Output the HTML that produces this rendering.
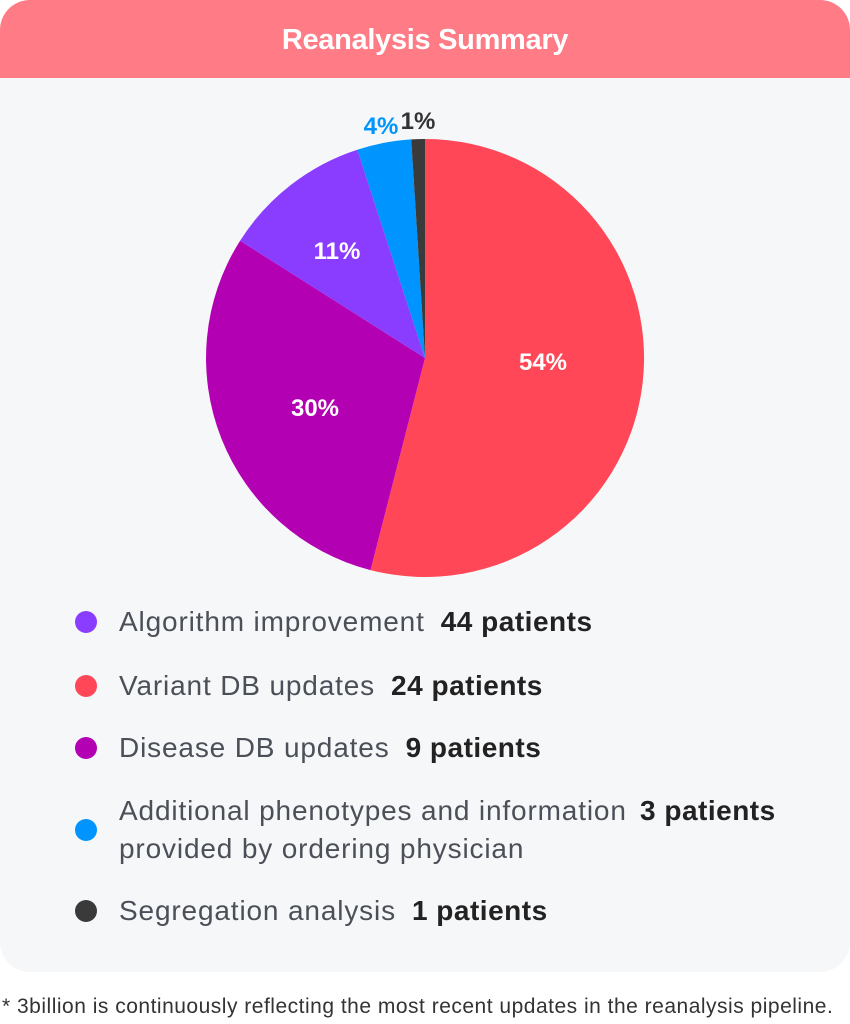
<!DOCTYPE html>
<html><head><meta charset="utf-8"><style>
body{margin:0;width:850px;height:1024px;background:#fff;font-family:"Liberation Sans",sans-serif;position:relative;overflow:hidden}
.card{position:absolute;left:0;top:0;width:850px;height:972px;background:#f6f7f9;border-radius:30px;overflow:hidden}
.hdr{position:absolute;left:0;top:0;width:850px;height:78px;background:#ff7b86;color:#fff;font-weight:bold;font-size:29px;text-align:center;line-height:80px;letter-spacing:-0.3px}
.row{position:absolute;left:119px;font-size:28px;letter-spacing:0.85px;color:#4b4f58;white-space:nowrap;line-height:38px}
.row b{color:#222;margin-left:16px;letter-spacing:0.5px}
.dot{position:absolute;left:75px;width:22px;height:22px;border-radius:50%}
.foot{position:absolute;left:2px;top:995px;font-size:21px;letter-spacing:0.5px;color:#333;white-space:nowrap}
</style></head><body>
<div class="card">
<div class="hdr">Reanalysis Summary</div>
<svg width="850" height="972" style="position:absolute;left:0;top:0">
<path d="M425 358 L425 139 A219 219 0 1 1 370.5 570.1 Z" fill="#ff4757"/>
<path d="M425 358 L370.5 570.1 A219 219 0 0 1 240.1 240.7 Z" fill="#b300b3"/>
<path d="M425 358 L240.1 240.7 A219 219 0 0 1 357.3 149.7 Z" fill="#8a3cff"/>
<path d="M425 358 L357.3 149.7 A219 219 0 0 1 411.2 139.4 Z" fill="#0094ff"/>
<path d="M425 358 L411.2 139.4 A219 219 0 0 1 425 139 Z" fill="#3a3a3a"/>
<g font-family="Liberation Sans,sans-serif" font-weight="bold" font-size="24" text-anchor="middle">
<text x="543" y="370" fill="#fff">54%</text>
<text x="315" y="416" fill="#fff">30%</text>
<text x="337" y="259" fill="#fff">11%</text>
<text x="381" y="134" fill="#0094ff">4%</text>
<text x="418" y="129" fill="#333">1%</text>
</g>
</svg>
<div class="dot" style="top:611px;background:#8a3cff"></div>
<div class="row" style="top:603px">Algorithm improvement<b>44 patients</b></div>
<div class="dot" style="top:675px;background:#ff4757"></div>
<div class="row" style="top:667px">Variant DB updates<b>24 patients</b></div>
<div class="dot" style="top:737px;background:#b300b3"></div>
<div class="row" style="top:729px">Disease DB updates<b>9 patients</b></div>
<div class="dot" style="top:819px;background:#0094ff"></div>
<div class="row" style="top:792px">Additional phenotypes and information<br>provided by ordering physician</div>
<div class="row" style="top:792px;left:624px"><b>3 patients</b></div>
<div class="dot" style="top:900px;background:#3a3a3a"></div>
<div class="row" style="top:892px">Segregation analysis<b>1 patients</b></div>
</div>
<div class="foot">* 3billion is continuously reflecting the most recent updates in the reanalysis pipeline.</div>
</body></html>
